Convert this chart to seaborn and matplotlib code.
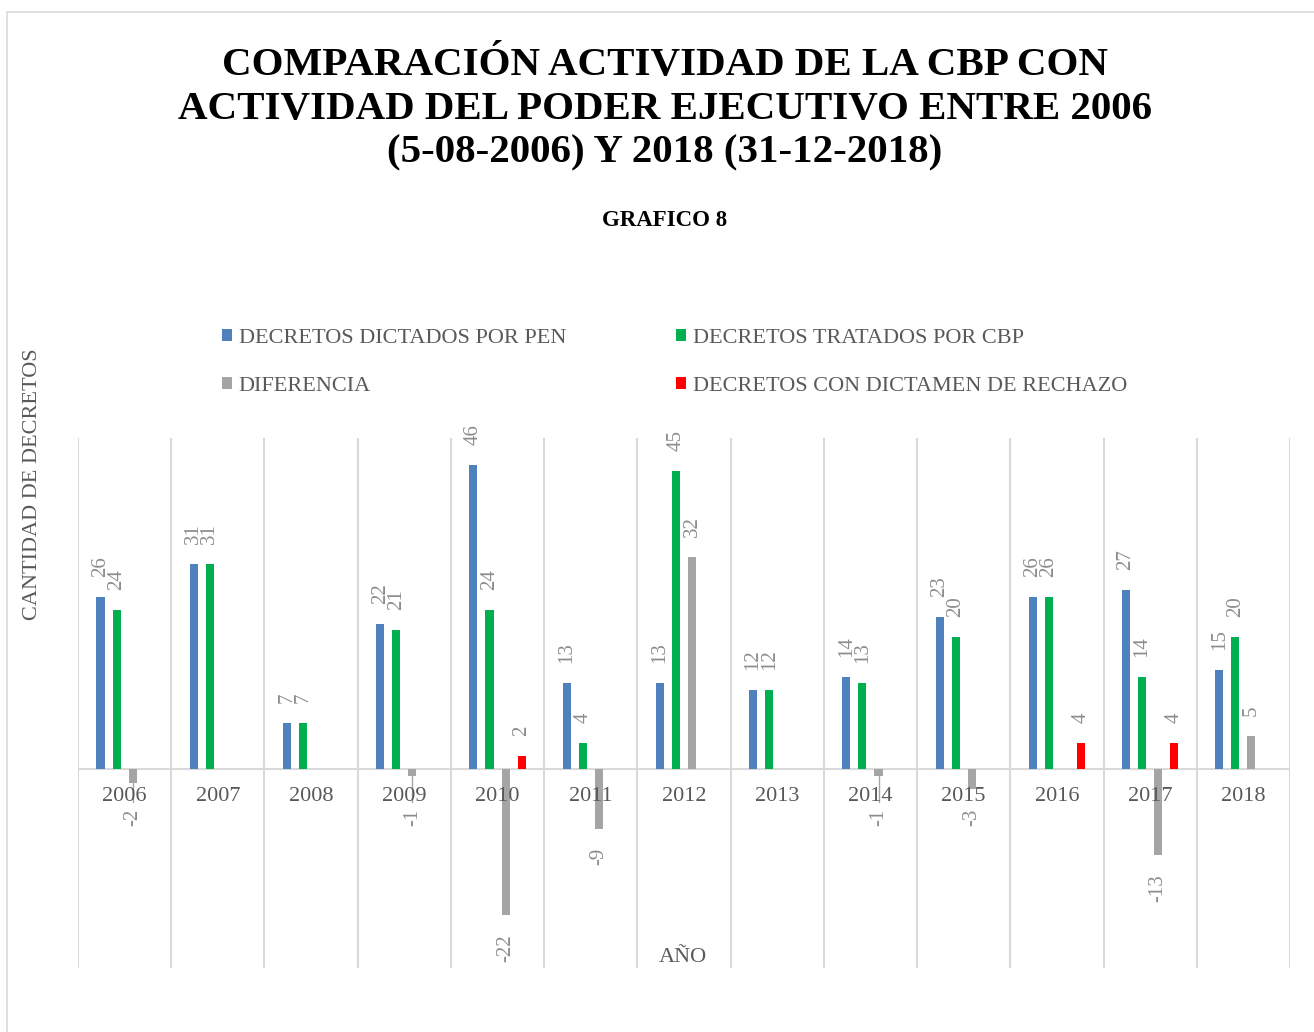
import numpy as np
import pandas as pd
import matplotlib
matplotlib.use("Agg")
import matplotlib.pyplot as plt
from matplotlib.patches import Rectangle, Patch
import seaborn as sns

# ---- data ----
years = ["2006", "2007", "2008", "2009", "2010", "2011", "2012",
         "2013", "2014", "2015", "2016", "2017", "2018"]
dictados_pen = [26, 31, 7, 22, 46, 13, 13, 12, 14, 23, 26, 27, 15]
tratados_cbp = [24, 31, 7, 21, 24, 4, 45, 12, 13, 20, 26, 14, 20]
diferencia = [-2, 0, 0, -1, -22, -9, 32, 0, -1, -3, 0, -13, 5]
rechazo = [0, 0, 0, 0, 2, 0, 0, 0, 0, 0, 4, 4, 0]

series_names = ["DECRETOS DICTADOS POR PEN", "DECRETOS TRATADOS POR CBP",
                "DIFERENCIA", "DECRETOS CON DICTAMEN DE RECHAZO"]
series_vals = [dictados_pen, tratados_cbp, diferencia, rechazo]
colors = ["#4F81BD", "#00B050", "#A5A5A5", "#FF0000"]

rows = []
for name, vals in zip(series_names, series_vals):
    for y, v in zip(years, vals):
        rows.append({"year": y, "serie": name, "value": v})
df = pd.DataFrame(rows)

sns.set_theme(style="white")
plt.rcParams["font.family"] = ["Liberation Serif", "DejaVu Serif"]

W, H = 1314, 1032
fig = plt.figure(figsize=(W / 100, H / 100), dpi=100)
fig.patch.set_facecolor("white")

# chart border
fig.patches.append(Rectangle((7 / W, -0.01), 1.0, 1 - 12 / H + 0.01,
                             transform=fig.transFigure, fill=False,
                             edgecolor="#D9D9D9", linewidth=1.2, zorder=0))

ax = fig.add_axes([78 / W, 1 - 968 / H, (1290 - 78) / W, (968 - 438) / H])

sns.barplot(data=df, x="year", y="value", hue="serie", hue_order=series_names,
            palette=colors, width=0.69, gap=0.5, errorbar=None, ax=ax,
            legend=False, saturation=1, linewidth=0)

ax.set_xlim(-0.5, len(years) - 0.5)
ax.set_ylim(-30, 50)

label_color = "#8C8C8C"
for c, vals in zip(ax.containers, series_vals):
    for bar, v in zip(c.patches, vals):
        if v == 0:
            continue
        xc = bar.get_x() + bar.get_width() / 2
        if v > 0:
            ax.text(xc, v + 3.0, str(v), rotation=90, ha="center",
                    va="bottom", fontsize=15, color=label_color)
        else:
            yl = min(v - 2.9, -5.9)
            if v - 2.9 > -5.9:
                ax.plot([xc, xc], [v, yl + 1.0], color="#A5A5A5",
                        linewidth=1, zorder=4)
            ax.text(xc, yl, str(v), rotation=90, ha="center",
                    va="top", fontsize=15, color=label_color)

# gridlines at category boundaries
ax.set_xticks(np.arange(-0.5, len(years), 1), minor=True)
ax.grid(which="minor", axis="x", color="#D9D9D9", linewidth=1.5)
ax.grid(which="major", visible=False)
ax.axhline(0, color="#D9D9D9", linewidth=1.5, zorder=0.5)
for s in ax.spines.values():
    s.set_visible(False)
ax.set_yticks([])
ax.set_xticks(range(len(years)))
ax.set_xticklabels([])
ax.tick_params(axis="x", which="both", length=0)
ax.set_xlabel("")
ax.set_ylabel("")
# category labels sitting just under the zero line
for i, y in enumerate(years):
    ax.text(i, -4.1, y, ha="center", va="center",
            fontsize=16, color="#595959", zorder=5)

# axis titles
fig.text(683 / W, 1 - 958 / H, "AÑO", ha="center", va="center",
         fontsize=16, color="#595959")
fig.text(33 / W, 1 - 484 / H, "CANTIDAD DE DECRETOS", ha="center",
         va="center", rotation=90, fontsize=16, color="#595959")

# titles
title = "COMPARACIÓN ACTIVIDAD DE LA CBP CON\nACTIVIDAD DEL PODER EJECUTIVO ENTRE 2006\n(5-08-2006) Y 2018 (31-12-2018)"
fig.text(665 / W, 1 - 109 / H, title, ha="center", va="center",
         fontsize=29.5, fontweight="bold", color="black", linespacing=1.23)
fig.text(665 / W, 1 - 221 / H, "GRAFICO 8", ha="center", va="center",
         fontsize=16.5, fontweight="bold", color="black")

# legend (row-major order like the reference)
handles = [Patch(facecolor=c, edgecolor="none") for c in colors]
order = [0, 2, 1, 3]
fig.legend([handles[i] for i in order], [series_names[i] for i in order],
           loc="upper left", bbox_to_anchor=(202 / W, 1 - 309 / H), ncol=2,
           frameon=False, fontsize=16, labelcolor="#595959",
           handlelength=0.45, handleheight=0.45, handletextpad=0.3,
           columnspacing=4.95, labelspacing=1.29)

fig.savefig("out.png", dpi=100)
